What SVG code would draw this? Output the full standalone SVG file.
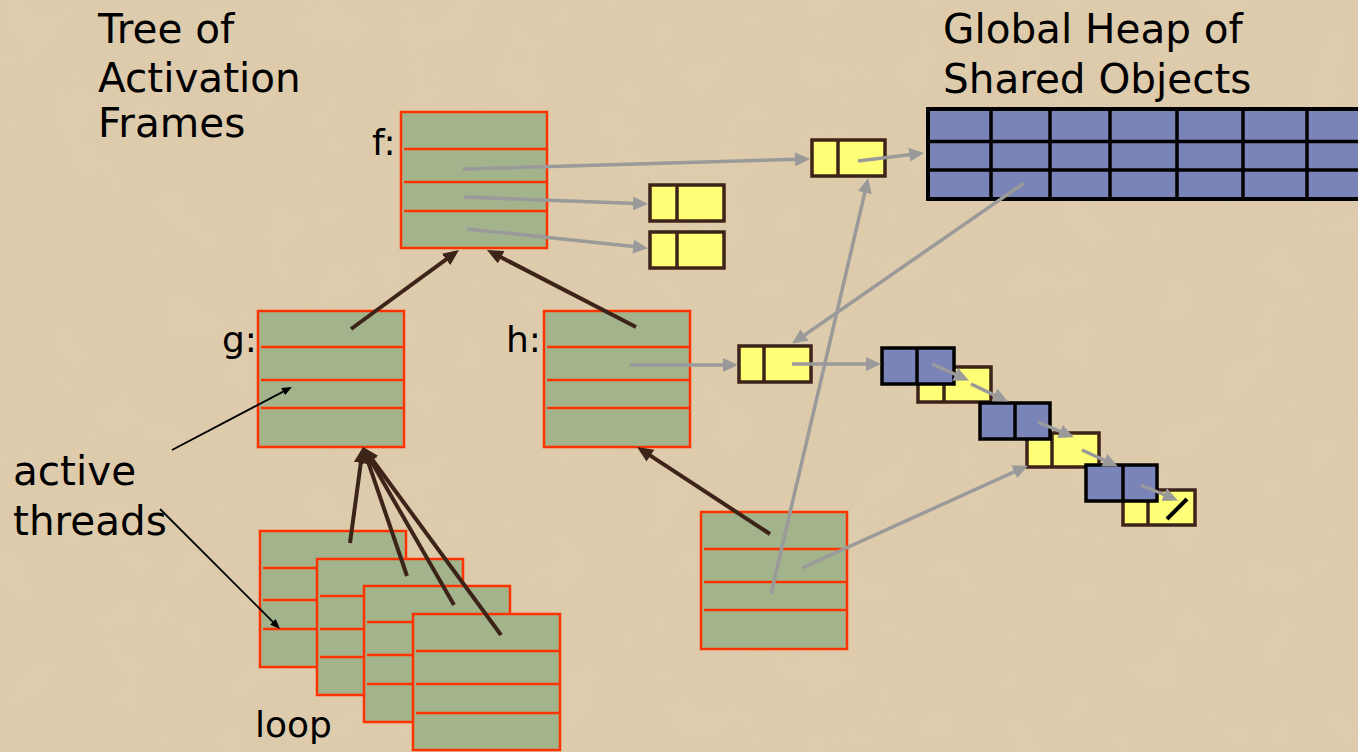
<svg xmlns="http://www.w3.org/2000/svg" width="1358" height="752" viewBox="0 0 1358 752">
<defs>
<style>
.bg{fill:#dfcdae}
.lbl{font-family:"DejaVu Sans",Verdana,sans-serif;fill:#000}
.big{font-size:40.5px}
.small{font-size:36px}
.frame rect{fill:#a3b48c;stroke:#ff3300;stroke-width:2.5}
.frame line{stroke:#ff3300;stroke-width:2.5}
.ycell rect{fill:#ffff77;stroke:#3d2318;stroke-width:3.5}
.ycell line{stroke:#3d2318;stroke-width:3.5}
.bcell rect{fill:#7b84b9;stroke:#000;stroke-width:3.5}
.bcell line{stroke:#000;stroke-width:3.5}
.heap rect{fill:#7b84b9;stroke:#000;stroke-width:4}
.heap line{stroke:#000;stroke-width:3.5}
.gray{stroke:#9a9a9a;stroke-width:3.5;fill:none;marker-end:url(#gh)}
.brown{stroke:#3d2419;stroke-width:4;fill:none;marker-end:url(#bh)}
.thin{stroke:#000;stroke-width:1.8;fill:none;marker-end:url(#th)}
</style>
<marker id="gh" markerUnits="userSpaceOnUse" markerWidth="15" markerHeight="14" refX="10" refY="7" orient="auto"><path d="M0,0 L15,7 L0,14 z" fill="#9a9a9a"/></marker>
<marker id="bh" markerUnits="userSpaceOnUse" markerWidth="16" markerHeight="14" refX="11" refY="7" orient="auto"><path d="M0,0 L16,7 L0,14 z" fill="#3d2419"/></marker>
<marker id="th" markerUnits="userSpaceOnUse" markerWidth="10" markerHeight="8" refX="7" refY="4" orient="auto"><path d="M0,0 L10,4 L0,8 z" fill="#000"/></marker>
<filter id="tex" x="0" y="0" width="100%" height="100%">
<feTurbulence type="fractalNoise" baseFrequency="0.02" numOctaves="3" seed="4"/>
<feColorMatrix type="matrix" values="0 0 0 0 0.55  0 0 0 0 0.45  0 0 0 0 0.3  0 0 0 0.25 0"/>
</filter>
</defs>
<rect class="bg" x="0" y="0" width="1358" height="752"/>
<rect x="0" y="0" width="1358" height="752" filter="url(#tex)" opacity="0.5"/>

<g id="titles">
<text class="lbl big" x="98" y="43">Tree of</text>
<text class="lbl big" x="98" y="92">Activation</text>
<text class="lbl big" x="98" y="137">Frames</text>
<text class="lbl big" x="943" y="43">Global Heap of</text>
<text class="lbl big" x="943" y="93">Shared Objects</text>
<text class="lbl big" x="13" y="485">active</text>
<text class="lbl big" x="13" y="535">threads</text>
</g>

<g id="frame-f" class="frame">
<rect x="401" y="112" width="146" height="136"/>
<line x1="404" y1="149" x2="547" y2="149"/><line x1="404" y1="182" x2="547" y2="182"/><line x1="404" y1="211" x2="547" y2="211"/>
<text class="lbl small" x="372" y="155">f:</text>
</g>
<g id="frame-g" class="frame">
<rect x="258" y="311" width="146" height="136"/>
<line x1="261" y1="347" x2="404" y2="347"/><line x1="261" y1="380" x2="404" y2="380"/><line x1="261" y1="408" x2="404" y2="408"/>
<text class="lbl small" x="222" y="352">g:</text>
</g>
<g id="frame-h" class="frame">
<rect x="544" y="311" width="146" height="136"/>
<line x1="547" y1="347" x2="690" y2="347"/><line x1="547" y1="380" x2="690" y2="380"/><line x1="547" y1="408" x2="690" y2="408"/>
<text class="lbl small" x="506" y="352">h:</text>
</g>
<g id="frame-hchild" class="frame">
<rect x="701" y="512" width="146" height="137"/>
<line x1="704" y1="549" x2="847" y2="549"/><line x1="704" y1="582" x2="847" y2="582"/><line x1="704" y1="610" x2="847" y2="610"/>
</g>
<g id="loop-1" class="frame">
<rect x="260" y="531" width="146" height="136"/>
<line x1="263" y1="568" x2="406" y2="568"/><line x1="263" y1="600" x2="406" y2="600"/><line x1="263" y1="629" x2="406" y2="629"/>
</g>
<g id="loop-2" class="frame">
<rect x="317" y="559" width="146" height="136"/>
<line x1="320" y1="596" x2="463" y2="596"/><line x1="320" y1="629" x2="463" y2="629"/><line x1="320" y1="657" x2="463" y2="657"/>
</g>
<g id="loop-3" class="frame">
<rect x="364" y="586" width="146" height="136"/>
<line x1="367" y1="622" x2="510" y2="622"/><line x1="367" y1="655" x2="510" y2="655"/><line x1="367" y1="684" x2="510" y2="684"/>
</g>
<g id="loop-4" class="frame">
<rect x="413" y="614" width="147" height="136"/>
<line x1="416" y1="651" x2="560" y2="651"/><line x1="416" y1="684" x2="560" y2="684"/><line x1="416" y1="713" x2="560" y2="713"/>
</g>
<g id="loop-label"><text class="lbl small" x="255" y="737">loop</text></g>

<g id="heap" class="heap">
<rect x="928" y="109" width="440" height="90"/>
<line x1="928" y1="141.5" x2="1360" y2="141.5"/><line x1="928" y1="170" x2="1360" y2="170"/>
<line x1="991" y1="109" x2="991" y2="199"/><line x1="1050" y1="109" x2="1050" y2="199"/><line x1="1110" y1="109" x2="1110" y2="199"/>
<line x1="1177" y1="109" x2="1177" y2="199"/><line x1="1243" y1="109" x2="1243" y2="199"/><line x1="1307" y1="109" x2="1307" y2="199"/>
</g>

<g id="cell-top" class="ycell"><rect x="812" y="140" width="73" height="36"/><line x1="838" y1="140" x2="838" y2="176"/></g>
<g id="cell-f1" class="ycell"><rect x="650" y="185" width="74" height="36"/><line x1="677" y1="185" x2="677" y2="221"/></g>
<g id="cell-f2" class="ycell"><rect x="650" y="232" width="74" height="36"/><line x1="677" y1="232" x2="677" y2="268"/></g>
<g id="cell-h" class="ycell"><rect x="739" y="346" width="72" height="36"/><line x1="764" y1="346" x2="764" y2="382"/></g>

<g id="list-y1" class="ycell"><rect x="918" y="367" width="73" height="35"/><line x1="944" y1="367" x2="944" y2="402"/></g>
<g id="list-y2" class="ycell"><rect x="1027" y="433" width="72" height="34"/><line x1="1052" y1="433" x2="1052" y2="467"/></g>
<g id="list-y3" class="ycell"><rect x="1123" y="490" width="72" height="35"/><line x1="1148" y1="490" x2="1148" y2="525"/><line x1="1167" y1="519" x2="1187" y2="499" style="stroke:#000;stroke-width:4"/></g>
<g id="list-b1" class="bcell"><rect x="882" y="348" width="72" height="36"/><line x1="917" y1="348" x2="917" y2="384"/></g>
<g id="list-b2" class="bcell"><rect x="980" y="403" width="70" height="36"/><line x1="1015" y1="403" x2="1015" y2="439"/></g>
<g id="list-b3" class="bcell"><rect x="1086" y="465" width="71" height="36"/><line x1="1123" y1="465" x2="1123" y2="501"/></g>

<g id="connectors">
<line class="gray" x1="463" y1="169" x2="805" y2="159.1"/>
<line class="gray" x1="464" y1="197" x2="643" y2="203.8"/>
<line class="gray" x1="467" y1="229" x2="643" y2="247.6"/>
<line class="gray" x1="858" y1="161" x2="919" y2="153.5"/>
<line class="gray" x1="771" y1="594" x2="867.1" y2="182.9"/>
<line class="gray" x1="1024" y1="183" x2="796.3" y2="340.7"/>
<line class="gray" x1="802" y1="568" x2="1023.4" y2="467.7"/>
<line class="gray" x1="630" y1="365" x2="733" y2="365"/>
<line class="gray" x1="792" y1="364" x2="876" y2="364"/>
<line class="gray" x1="932" y1="364" x2="964.3" y2="378.4"/>
<line class="gray" x1="971" y1="384" x2="1003.4" y2="399.3"/>
<line class="gray" x1="1038" y1="422" x2="1069.3" y2="435.4"/>
<line class="gray" x1="1082" y1="450" x2="1113.4" y2="464.4"/>
<line class="gray" x1="1141" y1="485" x2="1173.3" y2="498.5"/>
<line class="brown" x1="351" y1="329" x2="455" y2="252.9"/>
<line class="brown" x1="636" y1="327" x2="491.4" y2="252.3"/>
<line class="brown" x1="770" y1="534" x2="641.2" y2="449.7"/>
<line class="brown" x1="350" y1="543" x2="362.3" y2="452"/>
<line class="brown" x1="407" y1="576" x2="364.6" y2="451.7"/>
<line class="brown" x1="454" y1="605" x2="365.5" y2="451.3"/>
<line class="brown" x1="501" y1="635" x2="366" y2="451"/>
<line class="thin" x1="172" y1="450" x2="289.3" y2="388.4"/>
<line class="thin" x1="160" y1="509" x2="277.9" y2="626.9"/>
</g>
</svg>
